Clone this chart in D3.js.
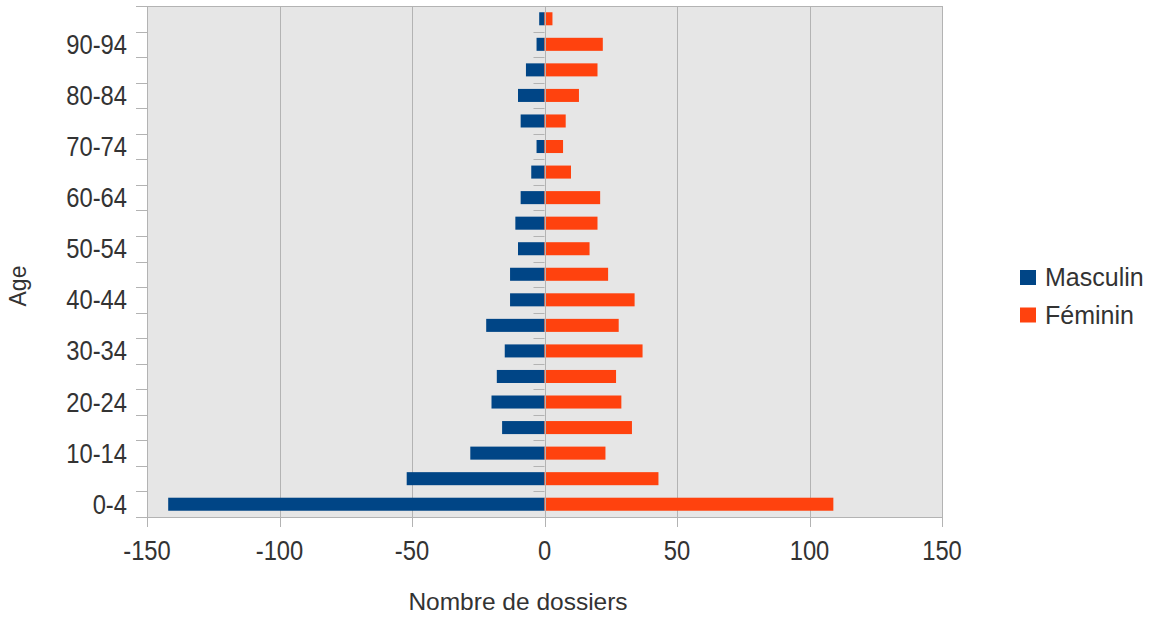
<!DOCTYPE html>
<html>
<head>
<meta charset="utf-8">
<script src="https://cdn.jsdelivr.net/npm/d3@7"></script>
<style>
  html, body { margin: 0; padding: 0; background: #ffffff; }
  svg { display: block; font-family: "Liberation Sans", Arial, sans-serif; }
</style>
</head>
<body>
<svg id="chart" width="1160" height="619"></svg>
<script>
// ---- Data ----
const ageGroups = ["0-4","5-9","10-14","15-19","20-24","25-29","30-34","35-39","40-44","45-49",
                   "50-54","55-59","60-64","65-69","70-74","75-79","80-84","85-89","90-94","95-99"];
const masculin = [142, 52, 28, 16, 20, 18, 15, 22, 13, 13, 10, 11, 9, 5, 3, 9, 10, 7, 3, 2];
const feminin  = [109, 43, 23, 33, 29, 27, 37, 28, 34, 24, 17, 20, 21, 10, 7, 8, 13, 20, 22, 3];
const xTicks = [-150, -100, -50, 0, 50, 100, 150];
const yLabels = ["0-4","10-14","20-24","30-34","40-44","50-54","60-64","70-74","80-84","90-94"];
const seriesNames = ["Masculin", "Féminin"];
const colors = ["#004586", "#ff420e"];

// ---- Layout ----
const svg = d3.select("#chart");
const L = 147, R = 942, T = 6, B = 517;
const grid = "#b3b3b3", textCol = "#333333";

const x = d3.scaleLinear().domain([-150, 150]).range([L, R]);
const y = d3.scaleBand().domain(ageGroups.slice().reverse()).range([T, B]).paddingInner(0.49).paddingOuter(0.245);
const band = (B - T) / ageGroups.length;

// plot background
svg.append("rect").attr("x", L).attr("y", T).attr("width", R - L).attr("height", B - T).attr("fill", "#e6e6e6");

// vertical grid lines
svg.append("g").selectAll("line").data(xTicks).join("line")
  .attr("x1", d => Math.round(x(d)) + 0.5).attr("x2", d => Math.round(x(d)) + 0.5)
  .attr("y1", T).attr("y2", B + 10)
  .attr("stroke", grid).attr("stroke-width", 1);

// horizontal tick marks at band boundaries (left axis and at zero)
const bounds = d3.range(ageGroups.length + 1);
svg.append("g").selectAll("line").data(bounds).join("line")
  .attr("x1", L - 11).attr("x2", L)
  .attr("y1", i => Math.round(T + i * band) + 0.5).attr("y2", i => Math.round(T + i * band) + 0.5)
  .attr("stroke", grid);
svg.append("g").selectAll("line").data(bounds).join("line")
  .attr("x1", x(0) - 11).attr("x2", x(0))
  .attr("y1", i => Math.round(T + i * band) + 0.5).attr("y2", i => Math.round(T + i * band) + 0.5)
  .attr("stroke", grid);

// top & bottom border
svg.append("line").attr("x1", L - 11).attr("x2", R).attr("y1", T + 0.5).attr("y2", T + 0.5).attr("stroke", grid);
svg.append("line").attr("x1", L - 11).attr("x2", R).attr("y1", B + 0.5).attr("y2", B + 0.5).attr("stroke", grid);

// bars
const gBars = svg.append("g");
gBars.selectAll("rect.m").data(ageGroups).join("rect").attr("class", "m")
  .attr("x", (d, i) => x(-masculin[i])).attr("width", (d, i) => x(0) - x(-masculin[i]))
  .attr("y", d => y(d)).attr("height", y.bandwidth()).attr("fill", colors[0]);
gBars.selectAll("rect.f").data(ageGroups).join("rect").attr("class", "f")
  .attr("x", x(0)).attr("width", (d, i) => x(feminin[i]) - x(0))
  .attr("y", d => y(d)).attr("height", y.bandwidth()).attr("fill", colors[1]);

// zero line on top
svg.append("line").attr("x1", Math.round(x(0)) + 0.5).attr("x2", Math.round(x(0)) + 0.5)
  .attr("y1", T).attr("y2", B + 10).attr("stroke", grid);

// x tick labels
svg.append("g").selectAll("text").data(xTicks).join("text")
  .attr("transform", d => `translate(${x(d)},560) scale(0.88,1)`)
  .attr("text-anchor", "middle").attr("font-size", 27).attr("fill", textCol)
  .text(d => d);

// y tick labels
svg.append("g").selectAll("text").data(yLabels).join("text")
  .attr("transform", d => `translate(127,${y(d) + y.bandwidth() / 2 + 9.5}) scale(0.88,1)`)
  .attr("text-anchor", "end").attr("font-size", 27).attr("fill", textCol)
  .text(d => d);

// axis titles
svg.append("text").attr("x", 518).attr("y", 610).attr("text-anchor", "middle")
  .attr("font-size", 24.5).attr("fill", textCol).text("Nombre de dossiers");
svg.append("text").attr("transform", "translate(26,286) rotate(-90)").attr("text-anchor", "middle")
  .attr("font-size", 23).attr("fill", textCol).text("Age");

// legend
const lg = svg.append("g");
seriesNames.forEach((name, i) => {
  lg.append("rect").attr("x", 1020).attr("y", 270 + i * 37.5).attr("width", 16).attr("height", 15).attr("fill", colors[i]);
  lg.append("text").attr("x", 1045).attr("y", 286 + i * 38).attr("font-size", 25).attr("fill", textCol).text(name);
});
</script>
</body>
</html>
